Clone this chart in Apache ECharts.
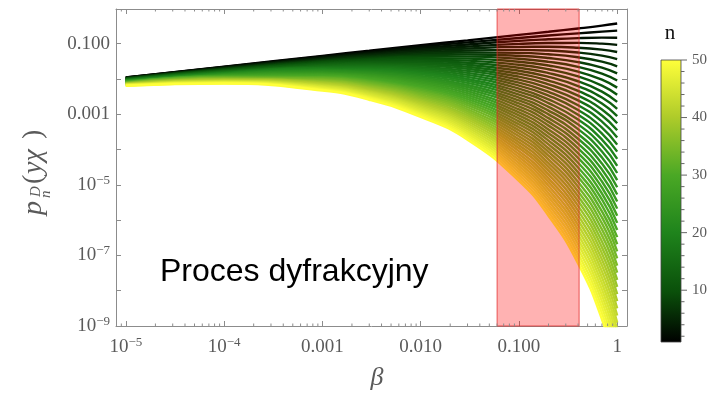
<!DOCTYPE html>
<html><head><meta charset="utf-8">
<script src="https://cdn.jsdelivr.net/npm/echarts@6/dist/echarts.min.js"></script>
<style>html,body{margin:0;padding:0;background:#fff}#c{width:712px;height:394px}</style>
</head><body><div id="c"></div>
<script>
// ---------------- data ----------------
const betaValues = [1e-5, 1e-4, 1e-3, 3e-3, 1e-2, 3e-2, 0.1, 0.2, 0.4, 0.7, 1];
const nValues = [1,2,3,4,5,6,7,8,9,10,11,12,13,14,15,16,17,18,19,20,21,22,23,24,25,
  26,27,28,29,30,31,32,33,34,35,36,37,38,39,40,41,42,43,44,45,46,47,48,49,50];
// p_n at each beta, index = n-1
const pBeta1e5 = [1.11e-2,1.10e-2,1.085e-2,1.073e-2,1.061e-2,1.049e-2,1.037e-2,1.026e-2,1.015e-2,1.003e-2,
  9.92e-3,9.81e-3,9.70e-3,9.59e-3,9.49e-3,9.38e-3,9.28e-3,9.18e-3,9.07e-3,8.97e-3,
  8.87e-3,8.78e-3,8.68e-3,8.58e-3,8.49e-3,8.39e-3,8.30e-3,8.21e-3,8.12e-3,8.03e-3,
  7.94e-3,7.85e-3,7.76e-3,7.68e-3,7.59e-3,7.51e-3,7.42e-3,7.34e-3,7.26e-3,7.18e-3,
  7.10e-3,7.02e-3,6.94e-3,6.87e-3,6.79e-3,6.72e-3,6.64e-3,6.57e-3,6.49e-3,6.42e-3];
const pBeta1e4 = [2.239e-2,2.189e-2,2.140e-2,2.092e-2,2.045e-2,1.999e-2,1.954e-2,1.911e-2,1.868e-2,1.826e-2,
  1.785e-2,1.745e-2,1.706e-2,1.668e-2,1.631e-2,1.594e-2,1.558e-2,1.523e-2,1.489e-2,1.456e-2,
  1.423e-2,1.391e-2,1.360e-2,1.330e-2,1.300e-2,1.271e-2,1.242e-2,1.215e-2,1.188e-2,1.161e-2,
  1.135e-2,1.110e-2,1.085e-2,1.060e-2,1.037e-2,1.013e-2,9.91e-3,9.69e-3,9.47e-3,9.26e-3,
  9.05e-3,8.85e-3,8.65e-3,8.46e-3,8.27e-3,8.08e-3,7.90e-3,7.72e-3,7.55e-3,7.38e-3];
const pBeta1e3 = [4.52e-2,4.31e-2,4.12e-2,3.93e-2,3.76e-2,3.59e-2,3.42e-2,3.27e-2,3.12e-2,2.98e-2,
  2.85e-2,2.72e-2,2.59e-2,2.48e-2,2.36e-2,2.26e-2,2.16e-2,2.06e-2,1.97e-2,1.88e-2,
  1.79e-2,1.71e-2,1.63e-2,1.56e-2,1.49e-2,1.42e-2,1.36e-2,1.30e-2,1.24e-2,1.18e-2,
  1.13e-2,1.08e-2,1.03e-2,9.82e-3,9.38e-3,8.96e-3,8.55e-3,8.16e-3,7.80e-3,7.44e-3,
  7.11e-3,6.79e-3,6.48e-3,6.19e-3,5.91e-3,5.64e-3,5.38e-3,5.14e-3,4.91e-3,4.69e-3];
const pBeta3e3 = [6.32e-2,5.92e-2,5.54e-2,5.19e-2,4.87e-2,4.56e-2,4.27e-2,4.00e-2,3.75e-2,3.51e-2,
  3.29e-2,3.08e-2,2.89e-2,2.71e-2,2.53e-2,2.37e-2,2.22e-2,2.08e-2,1.95e-2,1.83e-2,
  1.71e-2,1.61e-2,1.50e-2,1.41e-2,1.32e-2,1.24e-2,1.16e-2,1.09e-2,1.02e-2,9.52e-3,
  8.92e-3,8.36e-3,7.83e-3,7.34e-3,6.88e-3,6.44e-3,6.03e-3,5.65e-3,5.29e-3,4.96e-3,
  4.65e-3,4.35e-3,4.08e-3,3.82e-3,3.58e-3,3.35e-3,3.14e-3,2.94e-3,2.76e-3,2.58e-3];
const pBeta1e2 = [9.12e-2,8.29e-2,7.53e-2,6.84e-2,6.22e-2,5.65e-2,5.14e-2,4.67e-2,4.24e-2,3.86e-2,
  3.50e-2,3.18e-2,2.89e-2,2.63e-2,2.39e-2,2.17e-2,1.97e-2,1.79e-2,1.63e-2,1.48e-2,
  1.35e-2,1.22e-2,1.11e-2,1.01e-2,9.19e-3,8.35e-3,7.59e-3,6.90e-3,6.27e-3,5.69e-3,
  5.18e-3,4.71e-3,4.28e-3,3.89e-3,3.53e-3,3.21e-3,2.92e-3,2.65e-3,2.41e-3,2.19e-3,
  1.99e-3,1.81e-3,1.64e-3,1.49e-3,1.36e-3,1.23e-3,1.12e-3,1.02e-3,9.26e-4,8.41e-4];
const pBeta3e2 = [1.24e-1,1.09e-1,9.51e-2,8.33e-2,7.30e-2,6.39e-2,5.60e-2,4.91e-2,4.30e-2,3.77e-2,
  3.30e-2,2.89e-2,2.53e-2,2.22e-2,1.94e-2,1.70e-2,1.49e-2,1.31e-2,1.15e-2,1.00e-2,
  8.79e-3,7.71e-3,6.75e-3,5.92e-3,5.18e-3,4.54e-3,3.98e-3,3.48e-3,3.05e-3,2.67e-3,
  2.34e-3,2.05e-3,1.80e-3,1.58e-3,1.38e-3,1.21e-3,1.06e-3,9.28e-4,8.13e-4,7.13e-4,
  6.24e-4,5.47e-4,4.79e-4,4.20e-4,3.68e-4,3.22e-4,2.82e-4,2.47e-4,2.17e-4,1.90e-4];
const pBeta1e1 = [1.77e-1,1.45e-1,1.20e-1,9.86e-2,8.12e-2,6.68e-2,5.50e-2,4.53e-2,3.73e-2,3.07e-2,
  2.53e-2,2.08e-2,1.71e-2,1.41e-2,1.16e-2,9.57e-3,7.88e-3,6.49e-3,5.35e-3,4.40e-3,
  3.62e-3,2.98e-3,2.46e-3,2.02e-3,1.67e-3,1.37e-3,1.13e-3,9.30e-4,7.66e-4,6.31e-4,
  5.19e-4,4.27e-4,3.52e-4,2.90e-4,2.39e-4,1.96e-4,1.62e-4,1.33e-4,1.10e-4,9.03e-5,
  7.44e-5,6.12e-5,5.04e-5,4.15e-5,3.42e-5,2.81e-5,2.32e-5,1.91e-5,1.57e-5,1.29e-5];
const pBeta2e1 = [2.17e-1,1.70e-1,1.33e-1,1.04e-1,8.15e-2,6.38e-2,5.00e-2,3.91e-2,3.06e-2,2.40e-2,
  1.88e-2,1.47e-2,1.15e-2,9.00e-3,7.04e-3,5.51e-3,4.31e-3,3.38e-3,2.64e-3,2.07e-3,
  1.62e-3,1.27e-3,9.92e-4,7.77e-4,6.08e-4,4.76e-4,3.72e-4,2.91e-4,2.28e-4,1.79e-4,
  1.40e-4,1.09e-4,8.57e-5,6.71e-5,5.25e-5,4.11e-5,3.22e-5,2.52e-5,1.97e-5,1.54e-5,
  1.21e-5,9.45e-6,7.40e-6,5.79e-6,4.53e-6,3.55e-6,2.78e-6,2.17e-6,1.70e-6,1.33e-6];
const pBeta4e1 = [2.69e-1,1.96e-1,1.44e-1,1.05e-1,7.69e-2,5.62e-2,4.11e-2,3.01e-2,2.20e-2,1.61e-2,
  1.18e-2,8.61e-3,6.30e-3,4.61e-3,3.37e-3,2.47e-3,1.80e-3,1.32e-3,9.65e-4,7.06e-4,
  5.16e-4,3.78e-4,2.76e-4,2.02e-4,1.48e-4,1.08e-4,7.91e-5,5.79e-5,4.23e-5,3.10e-5,
  2.26e-5,1.66e-5,1.21e-5,8.86e-6,6.48e-6,4.74e-6,3.47e-6,2.54e-6,1.86e-6,1.36e-6,
  9.93e-7,7.26e-7,5.31e-7,3.89e-7,2.84e-7,2.08e-7,1.52e-7,1.11e-7,8.14e-8,5.96e-8];
const pBeta7e1 = [3.24e-1,2.19e-1,1.48e-1,1.00e-1,6.77e-2,4.58e-2,3.10e-2,2.10e-2,1.42e-2,9.59e-3,
  6.48e-3,4.39e-3,2.97e-3,2.01e-3,1.36e-3,9.18e-4,6.21e-4,4.20e-4,2.84e-4,1.92e-4,
  1.30e-4,8.79e-5,5.95e-5,4.02e-5,2.72e-5,1.84e-5,1.24e-5,8.42e-6,5.69e-6,3.85e-6,
  2.60e-6,1.76e-6,1.19e-6,8.06e-7,5.45e-7,3.69e-7,2.49e-7,1.69e-7,1.14e-7,7.72e-8,
  5.22e-8,3.53e-8,2.39e-8,1.62e-8,1.09e-8,7.39e-9,5.00e-9,3.38e-9,2.29e-9,1.55e-9];
const pBeta1 = [3.72e-1,2.34e-1,1.47e-1,9.22e-2,5.80e-2,3.64e-2,2.29e-2,1.44e-2,9.04e-3,5.68e-3,
  3.57e-3,2.24e-3,1.41e-3,8.87e-4,5.57e-4,3.50e-4,2.20e-4,1.38e-4,8.69e-5,5.46e-5,
  3.43e-5,2.16e-5,1.36e-5,8.52e-6,5.36e-6,3.37e-6,2.12e-6,1.33e-6,8.36e-7,5.25e-7,
  3.30e-7,2.07e-7,1.30e-7,8.19e-8,5.15e-8,3.24e-8,2.03e-8,1.28e-8,8.03e-9,5.05e-9,
  3.17e-9,1.99e-9,1.25e-9,7.87e-10,4.95e-10,3.11e-10,1.95e-10,1.23e-10,7.72e-11,4.85e-11];

const bandRange = [0.06, 0.41];             // shaded "Proces dyfrakcyjny" region
const xTickExponents = [-5, -4, -3, -2, -1, 0];
const xTickLabels = ['10^−5', '10^−4', '0.001', '0.010', '0.100', '1'];
const yTickExponents = [-9, -7, -5, -3, -1];
const yTickLabels = ['10^−9', '10^−7', '10^−5', '0.001', '0.100'];
const xMinorTicks = [9e-6,
  2e-5,3e-5,4e-5,5e-5,6e-5,7e-5,8e-5,9e-5,
  2e-4,3e-4,4e-4,5e-4,6e-4,7e-4,8e-4,9e-4,
  2e-3,3e-3,4e-3,5e-3,6e-3,7e-3,8e-3,9e-3,
  2e-2,3e-2,4e-2,5e-2,6e-2,7e-2,8e-2,9e-2,
  0.2,0.3,0.4,0.5,0.6,0.7,0.8,0.9];
const cbTicks = [2,4,6,8,10,12,14,16,18,20,22,24,26,28,30,32,34,36,38,40,42,44,46,48,50];
const cbTickLabels = [10, 20, 30, 40, 50];

// ---------------- styling ----------------
const columns = [pBeta1e5, pBeta1e4, pBeta1e3, pBeta3e3, pBeta1e2, pBeta3e2, pBeta1e1, pBeta2e1, pBeta4e1, pBeta7e1, pBeta1];
const X_MIN = 7.943e-6, X_MAX = 1.2589, Y_MIN = 1e-9, Y_MAX = 0.96;
const SERIF = '"Liberation Serif","DejaVu Serif",serif';
const LABEL_COLOR = '#5a5a5a', FRAME = '#8c8c8c';
const stops = [[0,[0,0,0]],[0.18,[10,80,10]],[0.39,[31,132,28]],[0.59,[74,168,37]],[0.8,[176,204,42]],[1,[255,255,58]]];
function colorAt(t){
  for (let i=1;i<stops.length;i++){
    if (t <= stops[i][0]) {
      const a = stops[i-1], b = stops[i], f = (t-a[0])/(b[0]-a[0]);
      const c = a[1].map((v,k)=>Math.round(v+(b[1][k]-v)*f));
      return 'rgb('+c.join(',')+')';
    }
  }
  return 'rgb(255,255,58)';
}
function richLabel(s){
  const m = /^10\^(.+)$/.exec(s);
  return m ? '{m|10}{s|' + m[1] + '}' : '{m|' + s + '}';
}
function fmtFor(exps, labels){
  return function(v){
    const l = Math.log10(v), e = Math.round(l);
    if (Math.abs(l - e) > 1e-6) return '';
    const i = exps.indexOf(e);
    return i < 0 ? '' : richLabel(labels[i]);
  };
}
const richStyle = {
  m: {fontFamily: SERIF, fontSize: 19, color: LABEL_COLOR, lineHeight: 22},
  s: {fontFamily: SERIF, fontSize: 13, color: LABEL_COLOR, lineHeight: 12, verticalAlign: 'top'}
};

const lineSeries = nValues.map((n, i) => ({
  type: 'line', name: 'n=' + n, xAxisIndex: 0, yAxisIndex: 0,
  data: betaValues.map((b, j) => [b, columns[j][i]]),
  symbol: 'none', showSymbol: false, smooth: 0.5,
  lineStyle: {width: 2.4, color: colorAt((n - 1) / 49)},
  z: 2, silent: true, clip: true, animation: false
}));

const chart = echarts.init(document.getElementById('c'), null, {renderer: 'canvas'});
const gridMain = {left: 116, top: 9, width: 511, height: 317};
const frameLine = {show: true, lineStyle: {color: FRAME, width: 1}};
const option = {
  animation: false,
  backgroundColor: '#fff',
  grid: [gridMain, {left: 661, top: 60, width: 20, height: 287.76}],
  xAxis: [
    {type: 'log', gridIndex: 0, min: X_MIN, max: X_MAX, position: 'bottom',
     axisLine: frameLine, splitLine: {show: false},
     axisTick: {show: true, inside: true, length: 5, lineStyle: {color: FRAME}},
     axisLabel: {show: true, margin: 10, formatter: fmtFor(xTickExponents, xTickLabels), rich: richStyle}},
    {type: 'log', gridIndex: 0, min: X_MIN, max: X_MAX, position: 'top',
     axisLine: frameLine, splitLine: {show: false},
     axisTick: {show: true, inside: true, length: 5, lineStyle: {color: FRAME}},
     axisLabel: {show: false}},
    {type: 'value', gridIndex: 1, min: 0, max: 1, show: false}
  ],
  yAxis: [
    {type: 'log', gridIndex: 0, min: Y_MIN, max: Y_MAX, position: 'left',
     axisLine: frameLine, splitLine: {show: false},
     axisTick: {show: true, inside: true, length: 5, lineStyle: {color: FRAME}},
     axisLabel: {show: true, margin: 6, formatter: fmtFor(yTickExponents, yTickLabels), rich: richStyle}},
    {type: 'log', gridIndex: 0, min: Y_MIN, max: Y_MAX, position: 'right',
     axisLine: frameLine, splitLine: {show: false},
     axisTick: {show: true, inside: true, length: 5, lineStyle: {color: FRAME}},
     axisLabel: {show: false}},
    {type: 'value', gridIndex: 1, min: 0, max: 50, interval: 10, position: 'right',
     axisLine: {show: false}, axisTick: {show: false}, splitLine: {show: false},
     axisLabel: {show: true, margin: 11, fontFamily: SERIF, fontSize: 15, color: LABEL_COLOR,
       formatter: v => (cbTickLabels.indexOf(v) >= 0 ? String(v) : '')}}
  ],
  series: lineSeries.concat([
    // translucent red band, drawn over the curves
    {type: 'custom', xAxisIndex: 0, yAxisIndex: 0, z: 10, silent: true,
     data: [[bandRange[0], Y_MIN]],
     renderItem: (params, api) => {
       const a = api.coord([bandRange[0], Y_MAX]), b = api.coord([bandRange[1], Y_MIN]);
       return {type: 'rect', shape: {x: a[0], y: a[1], width: b[0] - a[0], height: b[1] - a[1]},
         style: {fill: 'rgba(255,0,0,0.30)', stroke: 'rgba(225,40,40,0.75)', lineWidth: 1}};
     }},
    {type: 'custom', xAxisIndex: 0, yAxisIndex: 0, z: 11, silent: true,
     data: xMinorTicks.map(v => [v, 1e-3]),
     renderItem: (params, api) => {
       const v = api.value(0);
       const b = api.coord([v, Y_MIN]), t = api.coord([v, Y_MAX]);
       const st = {stroke: FRAME, lineWidth: 1};
       return {type: 'group', children: [
         {type: 'line', shape: {x1: b[0], y1: b[1], x2: b[0], y2: b[1] - 2.5}, style: st},
         {type: 'line', shape: {x1: t[0], y1: t[1], x2: t[0], y2: t[1] + 2.5}, style: st}
       ]};
     }},
    // colour bar
    {type: 'custom', xAxisIndex: 2, yAxisIndex: 2, z: 5, silent: true,
     data: [[0, 1]],
     renderItem: (params, api) => {
       const p0 = api.coord([0, nValues[0]]), p1 = api.coord([1, nValues[nValues.length - 1]]);
       const cs = stops.map(s => ({offset: s[0], color: 'rgb(' + s[1].join(',') + ')'}));
       return {type: 'rect', shape: {x: p0[0], y: p1[1], width: p1[0] - p0[0], height: p0[1] - p1[1]},
         style: {fill: new echarts.graphic.LinearGradient(0, 1, 0, 0, cs), stroke: '#444', lineWidth: 0.8}};
     }},
    {type: 'custom', xAxisIndex: 2, yAxisIndex: 2, z: 6, silent: true,
     data: cbTicks.map(v => [1, v]),
     renderItem: (params, api) => {
       const v = api.value(1);
       const p = api.coord([1, v]);
       const len = (v % 10 === 0) ? 6 : 3.5;
       return {type: 'line', shape: {x1: p[0], y1: p[1], x2: p[0] + len, y2: p[1]},
         style: {stroke: '#666', lineWidth: 1}};
     }}
  ]),
  graphic: [
    {type: 'text', left: 160, top: 256, z: 100, silent: true,
     style: {text: 'Proces dyfrakcyjny', font: '32px "Liberation Sans", Arial, sans-serif', fill: '#000'}},
    {type: 'text', x: 377, y: 378, z: 100, silent: true,
     style: {text: 'β', font: 'italic 26px ' + SERIF, fill: LABEL_COLOR, align: 'center', verticalAlign: 'middle'}},
    {type: 'text', x: 670, y: 33, z: 100, silent: true,
     style: {text: 'n', font: '21px ' + SERIF, fill: '#111', align: 'center', verticalAlign: 'middle'}},
    {type: 'group', x: 20, y: 215, rotation: Math.PI / 2, z: 100, silent: true,
     children: [
       {type: 'text', x: 0, y: 0, style: {text: 'p', font: 'italic 28px ' + SERIF, fill: LABEL_COLOR, verticalAlign: 'top'}},
       {type: 'text', x: 18, y: 8.6, style: {text: 'D', font: 'italic 15px ' + SERIF, fill: LABEL_COLOR, verticalAlign: 'top'}},
       {type: 'text', x: 17, y: 18.6, style: {text: 'n', font: 'italic 15px ' + SERIF, fill: LABEL_COLOR, verticalAlign: 'top'}},
       {type: 'text', x: 31, y: 0, style: {text: '(', font: '28px ' + SERIF, fill: LABEL_COLOR, verticalAlign: 'top'}},
       {type: 'text', x: 41, y: 0, style: {text: 'yχ', font: 'italic 28px ' + SERIF, fill: LABEL_COLOR, verticalAlign: 'top'}},
       {type: 'text', x: 76, y: 0, style: {text: ')', font: '28px ' + SERIF, fill: LABEL_COLOR, verticalAlign: 'top'}}
     ]}
  ]
};
chart.setOption(option);
</script></body></html>
